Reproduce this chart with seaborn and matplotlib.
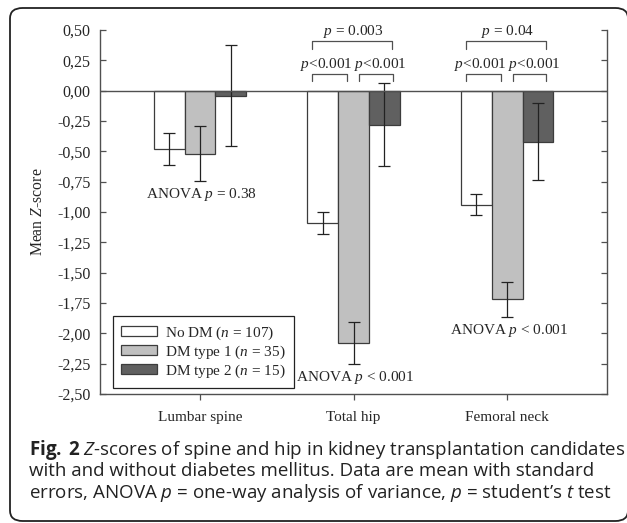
import numpy as np
import pandas as pd
import matplotlib
matplotlib.use('Agg')
import matplotlib.pyplot as plt
import seaborn as sns
from matplotlib.patches import FancyBboxPatch
from matplotlib.ticker import FuncFormatter, MultipleLocator

sites = ['Lumbar spine', 'Total hip', 'Femoral neck']
groups = [r'No DM ($n$ = 107)', r'DM type 1 ($n$ = 35)', r'DM type 2 ($n$ = 15)']
mean_nodm = [-0.48, -1.09, -0.94]
mean_dm1 = [-0.52, -2.08, -1.72]
mean_dm2 = [-0.04, -0.28, -0.42]
se_nodm = [0.13, 0.09, 0.085]
se_dm1 = [0.225, 0.17, 0.145]
se_dm2 = [0.42, 0.34, 0.32]
anova_text = [r'ANOVA $p$ = 0.38', r'ANOVA $p$ < 0.001', r'ANOVA $p$ < 0.001']
# pairwise t tests: (site, outer p, no DM vs type 1, type 1 vs type 2)
ttest_sites = [1, 2]
ttest_outer = [r'$p$ = 0.003', r'$p$ = 0.04']
ttest_left = [r'$p$<0.001', r'$p$<0.001']
ttest_right = [r'$p$<0.001', r'$p$<0.001']

sns.set_style('ticks')
plt.rcParams['font.family'] = ['Liberation Serif', 'DejaVu Serif']
plt.rcParams['mathtext.fontset'] = 'custom'
plt.rcParams['mathtext.it'] = 'Liberation Serif:italic'
plt.rcParams['mathtext.rm'] = 'Liberation Serif'
plt.rcParams['mathtext.bf'] = 'Open Sans:italic'
plt.rcParams['mathtext.sf'] = 'Open Sans:bold'

df = pd.DataFrame({
    'site': sites * 3,
    'group': [groups[0]] * 3 + [groups[1]] * 3 + [groups[2]] * 3,
    'mean': mean_nodm + mean_dm1 + mean_dm2,
})
ses = [se_nodm, se_dm1, se_dm2]

fig = plt.figure(figsize=(6.27, 5.23), dpi=100)
W, H = 627, 523
ax = fig.add_axes([100 / W, 1 - 394 / H, 507 / W, 364 / H])

ink = '#3c3c3c'
fs = 11
sns.barplot(data=df, x='site', y='mean', hue='group', order=sites, hue_order=groups,
            palette=['#ffffff', '#c0c0c0', '#606060'], width=0.6, gap=0,
            edgecolor=ink, linewidth=0.9, errorbar=None, ax=ax)

# error bars from the bar containers
lows = np.zeros(len(sites)) + 10
for cont, se in zip(ax.containers, ses):
    xs = [b.get_x() + b.get_width() / 2 for b in cont]
    ys = [b.get_height() + b.get_y() for b in cont]
    ax.errorbar(xs, ys, yerr=se, fmt='none', ecolor='#222222', elinewidth=0.9,
                capsize=4.5, capthick=0.9, zorder=4)
    lows = np.minimum(lows, np.array(ys) - np.array(se))

ax.axhline(0, color='#505050', lw=1.0, zorder=5)

ax.set_ylim(-2.5, 0.5)
ax.set_xlim(-0.65, 2.65)
ax.yaxis.set_major_locator(MultipleLocator(0.25))
ax.yaxis.set_major_formatter(FuncFormatter(lambda v, p: f'{v:.2f}'.replace('.', ',')))
ax.tick_params(axis='y', direction='in', right=True, length=4, width=0.9,
               color='#505050', labelsize=11.5, pad=7)
ax.tick_params(axis='x', direction='out', length=4.5, width=0.9, color='#505050',
               labelsize=fs, pad=8)
for s in ['left', 'right', 'bottom']:
    ax.spines[s].set_color('#505050')
    ax.spines[s].set_linewidth(1.0)
ax.spines['top'].set_visible(False)
ax.set_xlabel('')
ax.set_ylabel(r'Mean $Z$-score', fontsize=11.3)
ax.yaxis.set_label_coords(-0.106, 0.5)

# ANOVA labels under each group
for i, t in enumerate(anova_text):
    ax.text(i + 0.01, lows[i] - 0.11, t, ha='center', va='center', fontsize=fs)

# t-test brackets
for k, i in enumerate(ttest_sites):
    for (x0, x1, yl, yt) in [(-0.27, 0.25, 0.41, 0.34), (-0.27, -0.04, 0.14, 0.08),
                             (0.035, 0.255, 0.14, 0.08)]:
        ax.plot([i + x0, i + x0, i + x1, i + x1], [yt, yl, yl, yt],
                color='#505050', lw=0.9, clip_on=False)
    ax.text(i, 0.49, ttest_outer[k], ha='center', va='center', fontsize=fs)
    ax.text(i - 0.175, 0.215, ttest_left[k], ha='center', va='center', fontsize=fs)
    ax.text(i + 0.175, 0.215, ttest_right[k], ha='center', va='center', fontsize=fs)

handles, labels = ax.get_legend_handles_labels()
ax.legend(handles, labels, loc='lower left', bbox_to_anchor=(0.0256, 0.0165),
          frameon=True, fancybox=False, edgecolor='#222222', framealpha=1,
          fontsize=fs, handlelength=2.3, handleheight=0.65, handletextpad=0.55,
          labelspacing=0.1, borderpad=0.55, borderaxespad=0)
ax.get_legend().get_frame().set_linewidth(0.9)

# card border
card = FancyBboxPatch((10 / W, 1 - 521 / H), 618 / W, 513 / H,
                      boxstyle='round,pad=0,rounding_size=0.02',
                      transform=fig.transFigure, fill=False, edgecolor='#222222',
                      lw=1.3, clip_on=False)
fig.patches.append(card)

cap = [r'$\mathsf{Fig.\ 2}$ $\mathbf{Z}$-scores of spine and hip in kidney transplantation candidates',
       'with and without diabetes mellitus. Data are mean with standard',
       r'errors, ANOVA $\mathbf{p}$ = one-way analysis of variance, $\mathbf{p}$ = student’s $\mathbf{t}$ test']
for j, line in enumerate(cap):
    fig.text(29 / W, 1 - (455 + 21.5 * j) / H, line, ha='left', va='baseline',
             fontsize=13.5, family='Open Sans', color='#222222')

fig.savefig('out.png', dpi=100)
